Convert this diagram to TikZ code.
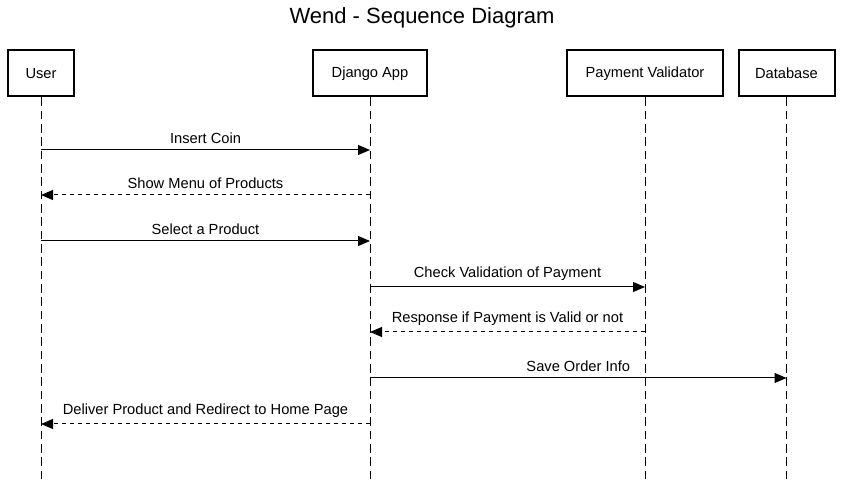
\documentclass[tikz,border=0pt]{standalone}
\usepackage{fontspec}
\setmainfont{Liberation Sans}
\usetikzlibrary{arrows.meta}

\begin{document}
\begin{tikzpicture}[
    x=0.75pt, y=-0.75pt,
    actor/.style={rectangle, draw, line width=1.5pt, minimum height=34.5pt, inner sep=0pt, font=\fontsize{11}{13}\selectfont},
    lifeline/.style={line width=0.75pt, dash pattern=on 6.5pt off 3.5pt},
    call/.style={-{Triangle[length=9pt, width=7.5pt]}, line width=0.75pt},
    reply/.style={call, dash pattern=on 3pt off 3pt},
    msglabel/.style={above, inner sep=0pt, yshift=4.2pt, font=\fontsize{11}{13}\selectfont}
]
    \useasboundingbox (0,0) rectangle (844,481);

    \node[font=\fontsize{16.5}{19}\selectfont] (title) at (422,18) {Wend - Sequence Diagram};

    % Participants
    \node[actor, minimum width=49.5pt] (user) at (41,73.5) {\raisebox{-1.2pt}{User}};
    \node[actor, minimum width=85.5pt] (django) at (370,73.5) {\raisebox{-1.2pt}{Django App}};
    \node[actor, minimum width=117pt] (pay) at (645,73.5) {\raisebox{-1.2pt}{Payment Validator}};
    \node[actor, minimum width=72pt] (db) at (786.5,73.5) {\raisebox{-1.2pt}{Database}};

    % Lifeline points
    \foreach \n/\x in {user/41, django/370, pay/645, db/786.5} {
        \coordinate (\n-end) at (\x,481);
        \foreach \i/\y in {1/150, 2/195, 3/241, 4/287, 5/332, 6/378, 7/424}
            \coordinate (\n-\i) at (\x,\y);
    }

    \draw[lifeline] (user) -- (user-end);
    \draw[lifeline] (django) -- (django-end);
    \draw[lifeline] (pay) -- (pay-end);
    \draw[lifeline] (db) -- (db-end);

    % Messages
    \draw[call] (user-1) -- node[msglabel] {Insert Coin} (django-1);
    \draw[reply] (django-2) -- node[msglabel] {Show Menu of Products} (user-2);
    \draw[call] (user-3) -- node[msglabel] {Select a Product} (django-3);
    \draw[call] (django-4) -- node[msglabel] {Check Validation of Payment} (pay-4);
    \draw[reply] (pay-5) -- node[msglabel] {Response if Payment is Valid or not} (django-5);
    \draw[call] (django-6) -- node[msglabel] {Save Order Info} (db-6);
    \draw[reply] (django-7) -- node[msglabel] {Deliver Product and Redirect to Home Page} (user-7);
\end{tikzpicture}
\end{document}
